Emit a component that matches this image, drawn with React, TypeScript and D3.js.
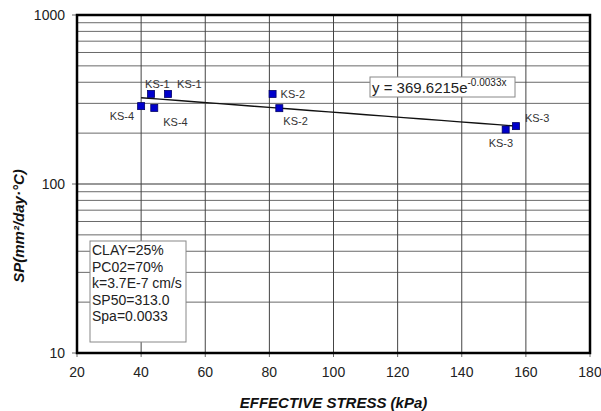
import React from "react";
import * as d3 from "d3";

const xTicks = [20, 40, 60, 80, 100, 120, 140, 160, 180];
const yMajorTicks = [10, 100, 1000];
const yMinorTicks = [20, 30, 40, 50, 60, 70, 80, 90, 200, 300, 400, 500, 600, 700, 800, 900];

const sampleNames = ["KS-4", "KS-1", "KS-4", "KS-1", "KS-2", "KS-2", "KS-3", "KS-3"];
const stressValues = [40, 43.1, 44.1, 48.4, 81.0, 83.1, 153.7, 156.9];
const spValues = [289, 341, 282, 341, 341, 281, 210, 220];

const trendA = 369.6215;
const trendB = -0.0033;
const trendRange = [40, 157];

const infoLines = ["CLAY=25%", "PC02=70%", "k=3.7E-7 cm/s", "SP50=313.0", "Spa=0.0033"];

// label placement offsets (pixels) relative to the marker
const labelOffsets: [number, number][] = [
  [-7, 14],
  [-6, -6],
  [9, 18],
  [9, -6],
  [8, 4],
  [4, 17],
  [-17, 17],
  [9, -4],
];

const W = 601;
const H = 411;
const left = 77;
const right = 590;
const top = 15;
const bottom = 353;
const FONT = "'Liberation Sans', Arial, Helvetica, sans-serif";

export default function App() {
  const x = d3.scaleLinear().domain([20, 180]).range([left, right]);
  const y = d3.scaleLog().domain([10, 1000]).range([bottom, top]);

  const trendPts = d3.range(trendRange[0], trendRange[1] + 0.001, (trendRange[1] - trendRange[0]) / 20).map(
    (v) => [v, trendA * Math.exp(trendB * v)] as [number, number]
  );
  const line = d3
    .line<[number, number]>()
    .x((d) => x(d[0]))
    .y((d) => y(d[1]));

  return (
    <svg
      width={W}
      height={H}
      style={{ position: "absolute", left: 0, top: 0, background: "#fff" }}
      fontFamily={FONT}
    >
      {/* minor horizontal grid */}
      {yMinorTicks.map((t) => (
        <line key={"ym" + t} x1={left} x2={right} y1={y(t)} y2={y(t)} stroke="#6a6a6a" strokeWidth={1} />
      ))}
      {yMajorTicks.map((t) => (
        <line key={"yM" + t} x1={left} x2={right} y1={y(t)} y2={y(t)} stroke="#333" strokeWidth={1.2} />
      ))}
      {/* vertical grid */}
      {xTicks.map((t) => (
        <line key={"xg" + t} x1={x(t)} x2={x(t)} y1={top} y2={bottom} stroke="#444" strokeWidth={1} />
      ))}
      {/* ticks */}
      {yMajorTicks.map((t) => (
        <line key={"yt" + t} x1={left - 5} x2={left} y1={y(t)} y2={y(t)} stroke="#666" strokeWidth={1} />
      ))}
      {xTicks.map((t) => (
        <line key={"xt" + t} x1={x(t)} x2={x(t)} y1={bottom} y2={bottom + 4} stroke="#666" strokeWidth={1} />
      ))}
      {/* frame */}
      <rect x={left} y={top} width={right - left} height={bottom - top} fill="none" stroke="#000" strokeWidth={2.5} />

      {/* tick labels */}
      {yMajorTicks.map((t) => (
        <text key={"yl" + t} x={left - 12} y={y(t) + 5} textAnchor="end" fontSize={14} fill="#222">
          {t}
        </text>
      ))}
      {xTicks.map((t) => (
        <text key={"xl" + t} x={x(t)} y={bottom + 24} textAnchor="middle" fontSize={14} fill="#222">
          {t}
        </text>
      ))}

      {/* axis titles */}
      <text
        x={(left + right) / 2}
        y={408}
        textAnchor="middle"
        fontSize={15}
        fontWeight="bold"
        fontStyle="italic"
        fill="#111"
      >
        EFFECTIVE STRESS (kPa)
      </text>
      <text
        transform={`translate(24,226) rotate(-90)`}
        textAnchor="middle"
        fontSize={15}
        fontWeight="bold"
        fontStyle="italic"
        fill="#111"
      >
        SP(mm²/day·°C)
      </text>

      {/* trend line */}
      <path d={line(trendPts) || ""} fill="none" stroke="#111" strokeWidth={1.4} />

      {/* markers */}
      {stressValues.map((v, i) => (
        <rect
          key={"p" + i}
          x={x(v) - 3.5}
          y={y(spValues[i]) - 3.5}
          width={7}
          height={7}
          fill="#0000cc"
          stroke="#000066"
          strokeWidth={0.8}
        />
      ))}
      {/* point labels */}
      {stressValues.map((v, i) => (
        <text
          key={"l" + i}
          x={x(v) + labelOffsets[i][0]}
          y={y(spValues[i]) + labelOffsets[i][1]}
          textAnchor={labelOffsets[i][0] < 0 && i === 0 ? "end" : "start"}
          fontSize={11}
          fill="#333"
        >
          {sampleNames[i]}
        </text>
      ))}

      {/* equation box */}
      <rect x={370} y={77} width={145} height={20} fill="#fff" stroke="#888" strokeWidth={1} />
      <text x={372} y={93} fontSize={15} fill="#222">
        y = {trendA.toFixed(4)}e
        <tspan dy={-7} fontSize={10}>
          {trendB.toFixed(4)}x
        </tspan>
      </text>

      {/* info box */}
      <rect x={90} y={241} width={96} height={101} fill="#fff" stroke="#888" strokeWidth={1} />
      {infoLines.map((s, i) => (
        <text key={"i" + i} x={92} y={255 + i * 16.5} fontSize={14} fill="#222">
          {s}
        </text>
      ))}
    </svg>
  );
}
